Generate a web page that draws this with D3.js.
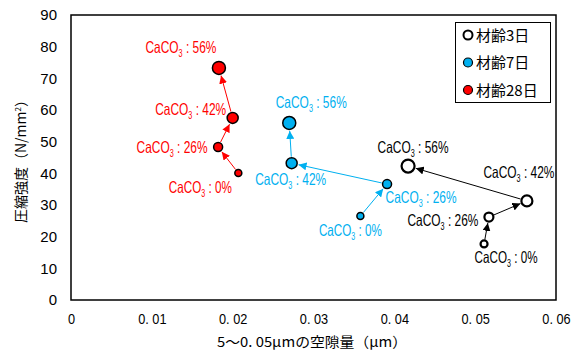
<!DOCTYPE html>
<html>
<head>
<meta charset="utf-8">
<script src="https://cdn.jsdelivr.net/npm/d3@7"></script>
<style>
  body { margin: 0; background: #fff; }
  text { font-family: "Liberation Sans", Arial, "Noto Sans CJK JP", sans-serif; }
  .jp { font-family: "Noto Sans CJK JP", sans-serif; }
</style>
</head>
<body>
<svg width="583" height="353"></svg>
<script>
// CaCO3 levels, in the order of the arrows
var levels = ["0%", "26%", "42%", "56%"];
var sizes = [3.5, 4.5, 5.5, 6.5];

var seriesNames = ["材齢3日", "材齢7日", "材齢28日"];
var seriesColors = ["#000000", "#00b0f0", "#ff0000"];
var seriesFill = ["#ffffff", "#00b0f0", "#ff0000"];

// void volume (x) and compressive strength (y)
var age3x = [0.0511, 0.0517, 0.0564, 0.0417];
var age3y = [17.7, 26.2, 31.3, 42.3];
var age7x = [0.0358, 0.0391, 0.0273, 0.0270];
var age7y = [26.5, 36.6, 43.2, 55.9];
var age28x = [0.0207, 0.0182, 0.0200, 0.0183];
var age28y = [40.1, 48.3, 57.5, 73.3];

var xTicks = [0, 0.01, 0.02, 0.03, 0.04, 0.05, 0.06];
var yTicks = [0, 10, 20, 30, 40, 50, 60, 70, 80, 90];

// label centre offsets from the point, per series then per level
var labelPos = [
  [[22, 14], [-46, 3], [-8, -28], [5, -19]],
  [[-10, 14], [34, 13], [-1, 16], [22, -20]],
  [[-38, 14], [-46, 0], [-42, -8], [-38, -20]]
];

var xs = [age3x, age7x, age28x];
var ys = [age3y, age7y, age28y];

var svg = d3.select("svg");
var mLeft = 71, mRight = 556, mTop = 15, mBottom = 300;

var x = d3.scaleLinear().domain([0, 0.06]).range([mLeft, mRight]);
var y = d3.scaleLinear().domain([0, 90]).range([mBottom, mTop]);

var defs = svg.append("defs");
seriesColors.forEach(function(c, i) {
  defs.append("marker")
    .attr("id", "arr" + i)
    .attr("viewBox", "0 0 10 10")
    .attr("refX", 10).attr("refY", 5)
    .attr("markerWidth", 8).attr("markerHeight", 8)
    .attr("markerUnits", "userSpaceOnUse")
    .attr("orient", "auto")
    .append("path")
    .attr("d", "M0,0L10,5L0,10z")
    .attr("fill", c);
});

// plot frame
svg.append("rect")
  .attr("x", mLeft).attr("y", mTop)
  .attr("width", mRight - mLeft).attr("height", mBottom - mTop)
  .attr("fill", "none").attr("stroke", "#000").attr("stroke-width", 1.5);

// axes, no tick marks
var xAxis = svg.append("g")
  .attr("transform", "translate(0," + mBottom + ")")
  .call(d3.axisBottom(x).tickValues(xTicks).tickSize(0).tickPadding(13)
    .tickFormat(function(d) { return d === 0 ? "0" : d3.format(".2f")(d).replace(".", ". "); }));
xAxis.select(".domain").remove();
xAxis.selectAll("text").attr("font-size", 15).attr("fill", "#000")
  .style("font-family", "'Liberation Sans', sans-serif")
  .attr("transform", "scale(0.85,1)");

var yAxis = svg.append("g")
  .attr("transform", "translate(" + mLeft + ",0)")
  .call(d3.axisLeft(y).tickValues(yTicks).tickSize(0).tickPadding(14));
yAxis.select(".domain").remove();
yAxis.selectAll("text").attr("font-size", 15).attr("fill", "#000")
  .style("font-family", "'Liberation Sans', sans-serif");

// axis titles
svg.append("text")
  .attr("class", "jp")
  .attr("x", 312).attr("y", 347)
  .attr("text-anchor", "middle")
  .attr("font-size", 14)
  .attr("textLength", 190).attr("lengthAdjust", "spacingAndGlyphs")
  .text("5～0. 05μmの空隙量（μm）");

var yt = svg.append("text")
  .attr("class", "jp")
  .attr("transform", "translate(26,158) rotate(-90)")
  .attr("text-anchor", "middle")
  .attr("font-size", 14);
yt.append("tspan").text("圧縮強度（N/mm");
yt.append("tspan").attr("font-size", 8).attr("dy", -5).text("2");
yt.append("tspan").attr("dy", 5).text("）");

seriesNames.forEach(function(name, s) {
  var pts = levels.map(function(l, i) { return { x: x(xs[s][i]), y: y(ys[s][i]), r: sizes[i] }; });
  var g = svg.append("g");

  // arrows between successive points
  for (var i = 0; i < pts.length - 1; i++) {
    var a = pts[i], b = pts[i + 1];
    var dx = b.x - a.x, dy = b.y - a.y, len = Math.sqrt(dx * dx + dy * dy);
    var ux = dx / len, uy = dy / len;
    g.append("line")
      .attr("x1", a.x + ux * (a.r + 1)).attr("y1", a.y + uy * (a.r + 1))
      .attr("x2", b.x - ux * (b.r + 1.5)).attr("y2", b.y - uy * (b.r + 1.5))
      .attr("stroke", seriesColors[s]).attr("stroke-width", 1)
      .attr("marker-end", "url(#arr" + s + ")");
  }

  g.selectAll("circle").data(pts).enter().append("circle")
    .attr("cx", function(d) { return d.x; })
    .attr("cy", function(d) { return d.y; })
    .attr("r", function(d) { return d.r; })
    .attr("fill", seriesFill[s])
    .attr("stroke", "#000").attr("stroke-width", s === 0 ? 2.2 : 1.5);

  // labels
  pts.forEach(function(p, i) {
    var lp = labelPos[s][i];
    var t = g.append("text")
      .attr("x", p.x + lp[0]).attr("y", p.y + lp[1] + 5.5)
      .attr("text-anchor", "middle")
      .attr("font-size", 16.5)
      .attr("textLength", levels[i].length > 2 ? 71 : 63)
      .attr("lengthAdjust", "spacingAndGlyphs")
      .attr("fill", seriesColors[s]);
    t.append("tspan").text("CaCO");
    t.append("tspan").attr("font-size", 10).attr("dy", 4).text("3");
    t.append("tspan").attr("dy", -4).text(" : " + levels[i]);
  });
});

// legend
svg.append("rect")
  .attr("x", 455.5).attr("y", 22.5).attr("width", 95).attr("height", 80)
  .attr("fill", "#fff").attr("stroke", "#000").attr("stroke-width", 1);
seriesNames.forEach(function(name, s) {
  var ly = 35 + s * 27.5;
  svg.append("circle")
    .attr("cx", 468).attr("cy", ly).attr("r", 4.5)
    .attr("fill", seriesFill[s]).attr("stroke", "#000").attr("stroke-width", s === 0 ? 2 : 1.2);
  svg.append("text")
    .attr("class", "jp")
    .attr("x", 476).attr("y", ly + 5.5)
    .attr("font-size", 15)
    .text(name);
});
</script>
</body>
</html>
